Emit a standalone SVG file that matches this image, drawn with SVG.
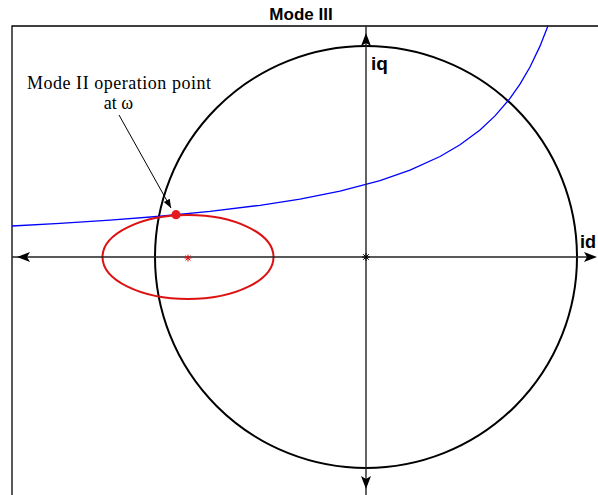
<svg xmlns="http://www.w3.org/2000/svg" width="598" height="495" viewBox="0 0 598 495">
<style>
.sans{font-family:"Liberation Sans",Arial,sans-serif;font-weight:bold;fill:#000}
.serif{font-family:"Liberation Serif","Times New Roman",serif;fill:#000}
.frame{stroke:#000;stroke-width:1.3;fill:none}
.axis{stroke:#222;stroke-width:1.4;fill:none}
.head{fill:#000;stroke:none}
.mark{stroke-width:1;fill:none}
</style>
<defs>
<marker id="ah" viewBox="0 0 10 8" refX="10" refY="4" markerWidth="9" markerHeight="7" markerUnits="userSpaceOnUse" orient="auto">
<path d="M0,0 L10,4 L0,8 Z" fill="#000"/>
</marker>
</defs>
<rect width="598" height="495" fill="#fff"/>
<g id="frame">
<path class="frame" d="M12,495 L12,26 L598,26"/>
</g>
<g id="title"><text class="sans" x="301" y="20" font-size="17" text-anchor="middle">Mode III</text></g>
<g id="circle"><circle cx="366" cy="257" r="211" fill="none" stroke="#000" stroke-width="2"/></g>
<g id="torque-curve">
<polyline fill="none" stroke="#0000ff" stroke-width="1.3" points="12,226 60,223.39 110,220.17 160,216.26 210,211.42 260,205.28 300,199.03 340,191.06 380,180.55 410,170.17 440,156.53 460,144.78 480,129.92 495,115.9 510,98.41 520,84.13 530,67.01 540,46.13 548,25.81"/>
</g>
<g id="ellipse"><ellipse cx="188" cy="257" rx="85.5" ry="42" fill="none" stroke="#dd1111" stroke-width="2"/></g>
<g id="connectors">
<line class="axis" x1="12" y1="257" x2="590" y2="257"/>
<line class="axis" x1="366" y1="26" x2="366" y2="495"/>
<path class="head" d="M17,257 L30,252 L27,257 L30,262 Z"/>
<path class="head" d="M597,257 L584,252 L587,257 L584,262 Z"/>
<path class="head" d="M366,33 L361,46 L366,43 L371,46 Z"/>
<path class="head" d="M366,489 L361,476 L366,479 L371,476 Z"/>
<line x1="119" y1="115" x2="171" y2="208" stroke="#000" stroke-width="1" marker-end="url(#ah)"/>
</g>
<g id="origin-marker"><path class="mark" stroke="#000" d="M362,257 h8 M366,253 v8 M363.2,254.2 l5.6,5.6 M368.8,254.2 l-5.6,5.6"/></g>
<g id="ellipse-center"><path class="mark" stroke="#dd1111" d="M184.5,258 h7 M188,254.5 v7 M185.5,255.5 l5,5 M190.5,255.5 l-5,5"/></g>
<g id="operation-point"><circle cx="176" cy="214.7" r="4.6" fill="#e41a1c"/></g>
<g id="label-iq"><text class="sans" x="371" y="70" font-size="19">iq</text></g>
<g id="label-id"><text class="sans" x="580" y="248" font-size="18">id</text></g>
<g id="annotation">
<text class="serif" x="119" y="89" font-size="18" text-anchor="middle" textLength="184" lengthAdjust="spacing">Mode II operation point</text>
<text class="serif" x="118.5" y="109" font-size="18" text-anchor="middle">at ω</text>
</g>
</svg>
